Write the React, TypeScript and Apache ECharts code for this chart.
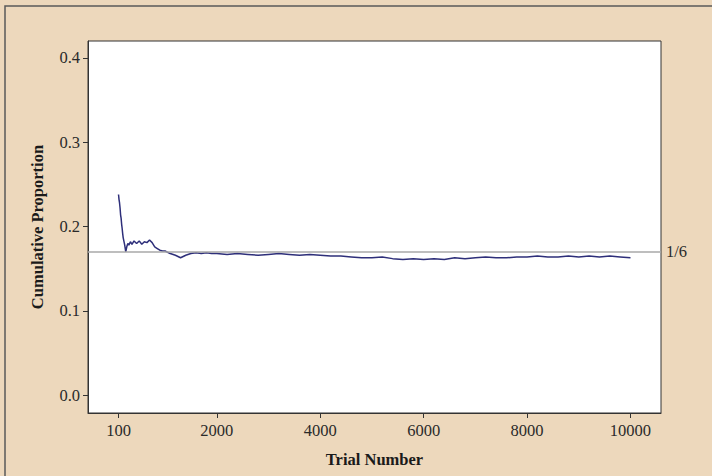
import React, { useEffect, useRef } from "react";
import * as echarts from "echarts";

const trials: number[] = [
  100, 110, 120, 130, 140, 150, 160, 170, 180, 190, 200, 220, 240, 260, 280, 300, 330, 360, 400, 450,
  500, 550, 600, 650, 700, 750, 800, 850, 900, 950, 1000, 1100, 1200, 1300, 1400, 1500, 1600, 1700,
  1800, 1900, 2000, 2200, 2400, 2600, 2800, 3000, 3200, 3400, 3600, 3800, 4000, 4200, 4400, 4600,
  4800, 5000, 5200, 5400, 5600, 5800, 6000, 6200, 6400, 6600, 6800, 7000, 7200, 7400, 7600, 7800,
  8000, 8200, 8400, 8600, 8800, 9000, 9200, 9400, 9600, 9800, 10000,
];
const proportions: number[] = [
  0.238, 0.232, 0.228, 0.222, 0.214, 0.21, 0.203, 0.198, 0.192, 0.187, 0.184, 0.178, 0.17, 0.176,
  0.18, 0.178, 0.182, 0.179, 0.183, 0.18, 0.183, 0.179, 0.182, 0.181, 0.184, 0.181, 0.176, 0.174,
  0.172, 0.171, 0.171, 0.168, 0.166, 0.163, 0.166, 0.168, 0.169, 0.168, 0.169, 0.168, 0.168, 0.167,
  0.168, 0.167, 0.166, 0.167, 0.168, 0.167, 0.166, 0.167, 0.166, 0.165, 0.165, 0.164, 0.163, 0.163,
  0.164, 0.162, 0.161, 0.162, 0.161, 0.162, 0.161, 0.163, 0.162, 0.163, 0.164, 0.163, 0.163, 0.164,
  0.164, 0.165, 0.164, 0.164, 0.165, 0.164, 0.165, 0.164, 0.165, 0.164, 0.163,
];
const xTicks: number[] = [100, 2000, 4000, 6000, 8000, 10000];
const yTicks: number[] = [0, 0.1, 0.2, 0.3, 0.4];
const referenceValue = 1 / 6;
const referenceLabel = "1/6";

export default function App() {
  const ref = useRef<HTMLDivElement>(null);
  useEffect(() => {
    if (!ref.current) return;
    const chart = echarts.init(ref.current, null, { renderer: "svg" });
    const font = "Liberation Serif";
    chart.setOption({
      animation: false,
      backgroundColor: "#EDD8BC",
      textStyle: { fontFamily: font },
      graphic: [
        {
          type: "rect",
          shape: { x: 5, y: 6, width: 720, height: 480 },
          style: { fill: "none", stroke: "#5a5a5a", lineWidth: 1.5 },
          silent: true,
        },
      ],
      grid: {
        left: 88,
        right: 51,
        top: 41,
        bottom: 63,
        show: true,
        backgroundColor: "#ffffff",
        borderColor: "#333333",
        borderWidth: 1,
      },
      xAxis: {
        type: "value",
        min: -490,
        max: 10590,
        name: "Trial Number",
        nameLocation: "middle",
        nameGap: 38,
        nameTextStyle: { fontFamily: font, fontWeight: "bold", fontSize: 16.5, color: "#1a1a1a" },
        axisLine: { show: true, onZero: false, lineStyle: { color: "#333333", width: 1 } },
        axisTick: { show: true, customValues: xTicks, length: 5, lineStyle: { color: "#333333" } },
        axisLabel: {
          customValues: xTicks,
          formatter: (v: number) => String(v),
          fontFamily: font,
          fontSize: 16.5,
          color: "#2a2a2a",
          margin: 9,
        },
        splitLine: { show: false },
      },
      yAxis: {
        type: "value",
        min: -0.021,
        max: 0.42,
        name: "Cumulative Proportion",
        nameLocation: "middle",
        nameGap: 42,
        nameTextStyle: { fontFamily: font, fontWeight: "bold", fontSize: 16.5, color: "#1a1a1a" },
        axisLine: { show: true, onZero: false, lineStyle: { color: "#333333", width: 1 } },
        axisTick: { show: true, customValues: yTicks, length: 5, lineStyle: { color: "#333333" } },
        axisLabel: {
          customValues: yTicks,
          formatter: (v: number) => v.toFixed(1),
          fontFamily: font,
          fontSize: 16.5,
          color: "#2a2a2a",
          margin: 8,
        },
        splitLine: { show: false },
      },
      series: [
        {
          type: "line",
          data: trials.map((t, i) => [t, proportions[i]]),
          showSymbol: false,
          lineStyle: { color: "#2E2F7A", width: 1.5 },
          z: 3,
          markLine: {
            silent: true,
            symbol: "none",
            lineStyle: { color: "#A8A8A8", width: 1.5, type: "solid" },
            label: {
              show: true,
              position: "end",
              formatter: referenceLabel,
              fontFamily: font,
              fontSize: 16.5,
              color: "#2a2a2a",
              distance: 5,
            },
            data: [{ yAxis: referenceValue }],
          },
        },
      ],
    });
    return () => chart.dispose();
  }, []);
  return (
    <div
      ref={ref}
      style={{ position: "fixed", left: 0, top: 0, width: 712, height: 476 }}
    />
  );
}
